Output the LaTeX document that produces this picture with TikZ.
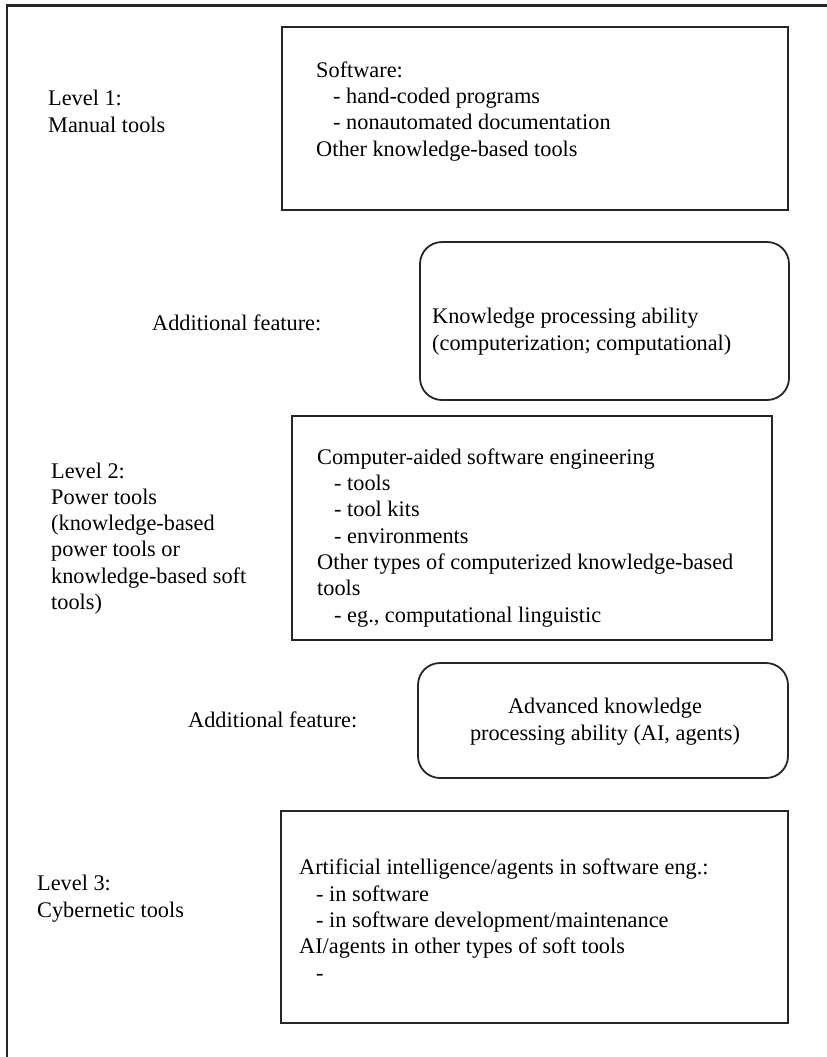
\documentclass[tikz,border=0pt]{standalone}
\usepackage{fontspec}
\setmainfont{Liberation Serif}
\newcommand{\ind}{\hspace*{17bp}}
\begin{document}
\begin{tikzpicture}[x=1bp,y=-1bp,
  edge/.style={draw=black!85, line width=1.8bp},
  box/.style={edge, rectangle, inner sep=0pt},
  rbox/.style={box, rounded corners=22bp},
  % multi-line nodes: the base anchor sits on the baseline of the last line
  txt/.style={font=\fontsize{22.3bp}{26.3bp}\selectfont, align=left, inner sep=0pt, anchor=base west},
  ctxt/.style={txt, align=center, anchor=base}]
\useasboundingbox (0,0) rectangle (827,1057);
\clip (0,0) rectangle (827,1057);

% outer frame (open towards the lower right)
\draw[edge, line width=2.4bp] (7,1100) |- (900,5.5);

% boxes
\node[box,  minimum width=506bp, minimum height=183bp] (b1) at (535,118.5) {};
\node[rbox, minimum width=369bp, minimum height=158bp] (b2) at (604.5,321) {};
\node[box,  minimum width=480bp, minimum height=224bp] (b3) at (532,528) {};
\node[rbox, minimum width=370bp, minimum height=115bp] (b4) at (603,720.5) {};
\node[box,  minimum width=507bp, minimum height=212bp] (b5) at (534.5,917) {};

% box contents
\node[txt] (t1) at (316,156) {Software:\\\ind- hand-coded programs\\\ind- nonautomated documentation\\Other knowledge-based tools};
\node[txt] (t2) at (432,350) {Knowledge processing ability\\(computerization; computational)};
\node[txt] (t3) at (317,622) {Computer-aided software engineering\\\ind- tools\\\ind- tool kits\\\ind- environments\\Other types of computerized knowledge-based\\tools\\\ind- eg., computational linguistic};
\node[ctxt] (t4) at (605,740) {Advanced knowledge\\processing ability (AI, agents)};
\node[txt] (t5) at (299,980) {Artificial intelligence/agents in software eng.:\\\ind- in software\\\ind- in software development/maintenance\\AI/agents in other types of soft tools\\\ind-};

% level labels
\node[txt] (l1) at (48,132) {Level 1:\\Manual tools};
\node[txt] (a1) at (152,330) {Additional feature:};
\node[txt] (l2) at (51,609.5) {Level 2:\\Power tools\\(knowledge-based\\power tools or\\knowledge-based soft\\tools)};
\node[txt] (a2) at (188,727) {Additional feature:};
\node[txt] (l3) at (37,917) {Level 3:\\Cybernetic tools};
\end{tikzpicture}
\end{document}
